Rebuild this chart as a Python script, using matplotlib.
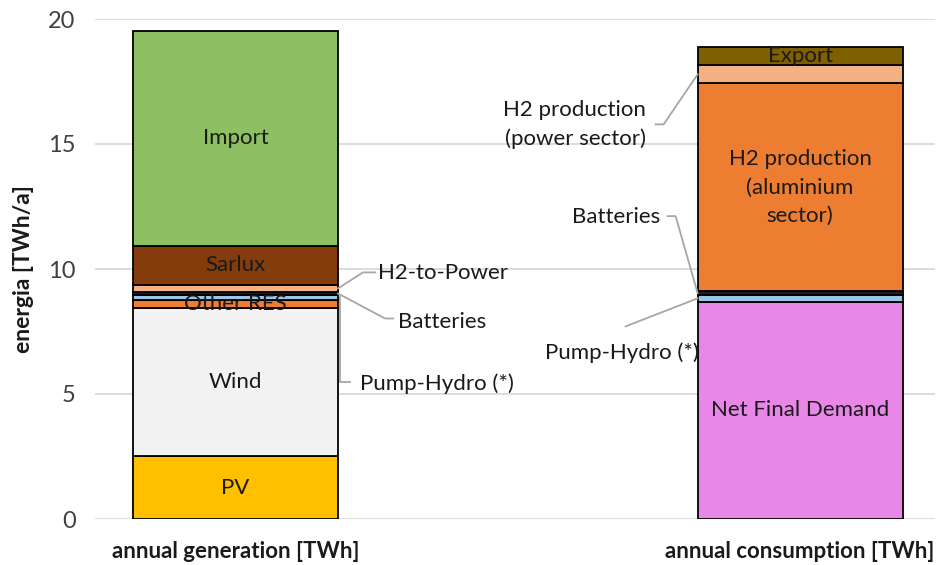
import matplotlib
matplotlib.use("Agg")
import matplotlib.pyplot as plt
import numpy as np

plt.rcParams['font.family'] = ['Lato', 'DejaVu Sans']

categories = ["annual generation [TWh]", "annual consumption [TWh]"]

gen_labels = ["PV", "Wind", "Other RES", "Pump-Hydro (*)", "Batteries", "H2-to-Power", "Sarlux", "Import"]
gen_values = [2.52, 5.91, 0.34, 0.20, 0.10, 0.31, 1.54, 8.60]
gen_colors = ["#FFC000", "#F2F2F2", "#ED7D31", "#9DC3E6", "#1F1F1F", "#F4B183", "#843C0C", "#8DC063"]

cons_labels = ["Net Final Demand", "Pump-Hydro (*)", "Batteries",
               "H2 production\n(aluminium\nsector)", "H2 production\n(power sector)", "Export"]
cons_values = [8.69, 0.27, 0.15, 8.31, 0.73, 0.73]
cons_colors = ["#E987E9", "#9DC3E6", "#1F1F1F", "#ED7D31", "#F4B183", "#7F6000"]

yticks = [0, 5, 10, 15, 20]
ylabel = "energia [TWh/a]"

fig = plt.figure(figsize=(9.43, 5.65), dpi=100)
ax = fig.add_axes([95/943, 1 - 519/565, 840/943, 500/565])

W = 0.363
FS = 16
LS = 1.55
x = np.arange(len(categories))


def stack(xpos, vals, cols):
    bottoms = np.concatenate([[0], np.cumsum(vals)[:-1]])
    ax.bar([xpos] * len(vals), vals, W, bottom=bottoms, color=cols,
           edgecolor="black", linewidth=1.3, zorder=3)
    return bottoms


gb = stack(x[0], gen_values, gen_colors)
cb = stack(x[1], cons_values, cons_colors)

# labels inside bars
for i in [0, 1, 2, 6, 7]:
    ax.text(x[0], gb[i] + gen_values[i] / 2, gen_labels[i], ha="center", va="center",
            fontsize=FS, color="#1a1a1a", zorder=5)
for i in [0, 3, 5]:
    ax.text(x[1], cb[i] + cons_values[i] / 2, cons_labels[i], ha="center", va="center",
            fontsize=FS, color="#1a1a1a", zorder=5, linespacing=LS)

LC = "#A6A6A6"
rx = x[0] + W / 2
lx = x[1] - W / 2
px = 1 / 564.5   # one pixel in x data
py = 1 / 25.0    # one pixel in y data


def leader(pts, text, tx, ty, ha):
    xs, ys = zip(*pts)
    ax.plot(xs, ys, color=LC, lw=1.3, zorder=4, clip_on=False)
    ax.text(tx, ty, text, ha=ha, va="center", fontsize=FS, color="#1a1a1a",
            linespacing=LS)


# generation leaders
c = gb[5] + gen_values[5] / 2
leader([(rx, c), (rx + 25 * px, c + 16 * py), (rx + 37 * px, c + 16 * py)],
       gen_labels[5], rx + 40 * px, c + 15 * py, "left")
c = gb[4] + gen_values[4] / 2
leader([(rx, c), (rx + 47 * px, c - 25 * py), (rx + 55 * px, c - 25 * py)],
       gen_labels[4], rx + 60 * px, c - 28 * py, "left")
c = gb[3] + gen_values[3] / 2
leader([(rx + 2 * px, c), (rx + 2 * px, c - 85 * py), (rx + 12 * px, c - 85 * py)],
       gen_labels[3], rx + 22 * px, c - 86 * py, "left")

# consumption leaders
c = cb[4] + cons_values[4] / 2
leader([(lx, c), (lx - 34 * px, c - 50 * py), (lx - 42 * px, c - 50 * py)],
       cons_labels[4], lx - 52 * px, c - 50 * py, "right")
c = cb[2] + cons_values[2] / 2
leader([(lx, c), (lx - 22 * px, c + 77 * py), (lx - 30 * px, c + 77 * py)],
       cons_labels[2], lx - 37 * px, c + 76 * py, "right")
c = cb[1] + cons_values[1] / 2
leader([(lx, c), (lx - 72 * px, c - 28 * py)],
       cons_labels[1], lx - 76 * px, c - 54 * py, "center")

ax.set_xlim(-0.249, 1.239)
ax.set_ylim(0, 20)
ax.set_yticks(yticks)
ax.set_yticklabels([str(t) for t in yticks], fontsize=FS + 1, color="#404040")
ax.set_xticks(x)
ax.set_xticklabels(categories, fontsize=FS, fontweight="bold", color="#1a1a1a")
ax.tick_params(axis="both", length=0)
ax.tick_params(axis="y", pad=14)
ax.tick_params(axis="x", pad=16)
ax.grid(axis="y", color="#D9D9D9", lw=1.3, zorder=0)
for s in ax.spines.values():
    s.set_visible(False)
ax.set_ylabel(ylabel, fontsize=FS + 0.5, fontweight="bold", color="#1a1a1a", labelpad=10)

fig.savefig("out.png", dpi=100)
